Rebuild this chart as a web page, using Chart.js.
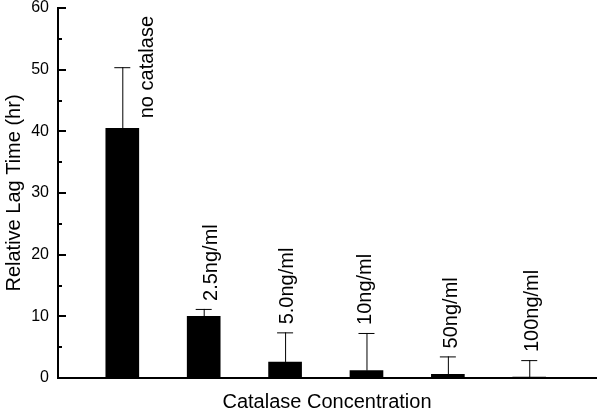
<!DOCTYPE html>
<html>
<head>
<meta charset="utf-8">
<script src="https://cdn.jsdelivr.net/npm/chart.js@4/dist/chart.umd.min.js"></script>
<style>
  body { margin: 0; background: #fff; }
</style>
</head>
<body>
<canvas id="lagChart" width="601" height="414"></canvas>
<script>
// Daten aus der Abbildung
const categories = ['no catalase', '2.5ng/ml', '5.0ng/ml', '10ng/ml', '50ng/ml', '100ng/ml'];
const lagTimes = [40.5, 10.0, 2.6, 1.2, 0.6, 0.15];
const errorTops = [50.4, 11.2, 7.4, 7.3, 3.5, 2.9];
const yTicks = [0, 10, 20, 30, 40, 50, 60];

// Beschriftungen über den Balken (Versatz in Pixeln)
const labelShiftX = [25, 8, 2, -1, 4, 3];
const FONT = '"Liberation Sans", Arial, sans-serif';

const errorBars = {
    id: 'errorBars',
    afterDraw(chart) {
        const ctx = chart.ctx;
        const meta = chart.getDatasetMeta(0);
        const y = chart.scales.y;
        const area = chart.chartArea;
        ctx.save();
        ctx.strokeStyle = '#000';
        ctx.lineWidth = 1;
        meta.data.forEach((bar, i) => {
            const top = y.getPixelForValue(errorTops[i]);
            const base = y.getPixelForValue(lagTimes[i]);
            ctx.beginPath();
            ctx.moveTo(bar.x + 0.5, base);
            ctx.lineTo(bar.x + 0.5, top);
            ctx.moveTo(bar.x - 8, top + 0.5);
            ctx.lineTo(bar.x + 8, top + 0.5);
            ctx.stroke();
        });

        // Beschriftungen, senkrecht
        ctx.fillStyle = '#000';
        ctx.font = '20px ' + FONT;
        ctx.textAlign = 'left';
        ctx.textBaseline = 'middle';
        meta.data.forEach((bar, i) => {
            let bottom;
            if (i === 0) {
                bottom = y.getPixelForValue(lagTimes[i]) - 10;
            } else {
                bottom = y.getPixelForValue(errorTops[i]) - 8;
            }
            ctx.save();
            ctx.translate(bar.x + labelShiftX[i], bottom);
            ctx.rotate(-Math.PI / 2);
            ctx.fillText(categories[i], 0, 0);
            ctx.restore();
        });

        // Achsenlinie und Teilstriche nach innen
        ctx.fillRect(area.left - 1, area.top, 2, area.bottom - area.top + 1);
        y.ticks.forEach(t => {
            if (t.value === 0) return;
            const py = Math.round(y.getPixelForValue(t.value));
            const len = t.value % 10 === 0 ? 8 : 4;
            ctx.fillRect(area.left, py - 1, len, 2);
        });
        ctx.restore();
    }
};

new Chart(document.getElementById('lagChart'), {
    type: 'bar',
    data: {
        datasets: [{
            data: lagTimes.map((v, i) => ({ x: i, y: v })),
            backgroundColor: '#000',
            borderWidth: 0,
            barThickness: 33
        }]
    },
    options: {
        responsive: false,
        animation: false,
        layout: { padding: { top: 0, right: 5, left: 0, bottom: 0 } },
        plugins: {
            legend: { display: false },
            tooltip: { enabled: false }
        },
        scales: {
            x: {
                type: 'linear',
                offset: false,
                min: -0.79,
                max: 5.82,
                grid: { display: false, drawTicks: false },
                border: { display: true, color: '#000', width: 2 },
                ticks: { display: false },
                title: {
                    display: true,
                    text: 'Catalase Concentration',
                    color: '#000',
                    font: { family: FONT, size: 20 },
                    padding: { top: 0, bottom: 0 }
                },
                afterFit(scale) { scale.height = 36; }
            },
            y: {
                min: 0,
                max: 60,
                grid: { display: false, drawTicks: false },
                border: { display: true, color: '#000', width: 2 },
                ticks: {
                    stepSize: 5,
                    padding: 9,
                    color: '#000',
                    font: { family: FONT, size: 16 },
                    callback: v => yTicks.includes(v) ? v : ''
                },
                title: {
                    display: true,
                    text: 'Relative Lag Time (hr)',
                    color: '#000',
                    font: { family: FONT, size: 20 },
                    padding: { top: 2, bottom: 0 }
                },
                afterFit(scale) {
                    scale.width = 58;
                    scale.paddingTop = 8;
                    scale.paddingBottom = 0;
                }
            }
        }
    },
    plugins: [errorBars]
});
</script>
</body>
</html>
